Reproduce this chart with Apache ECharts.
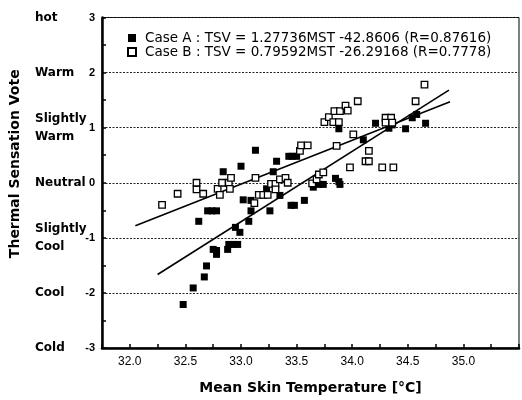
<!DOCTYPE html>
<html>
<head>
<meta charset="utf-8">
<script src="https://cdn.jsdelivr.net/npm/echarts@6/dist/echarts.min.js"></script>
<style>
  html, body { margin: 0; padding: 0; background: #fff; }
  #chart { width: 522px; height: 400px; }
</style>
</head>
<body>
<div id="chart"></div>
<script>
// Case A (filled squares): [mean skin temperature, thermal sensation vote]
const caseA = [
  [32.48,-2.21],[32.57,-1.91],[32.67,-1.71],[32.69,-1.51],[32.75,-1.21],
  [32.78,-1.23],[32.78,-1.30],[32.88,-1.21],[32.89,-1.12],[32.93,-1.12],
  [32.97,-1.12],[32.62,-0.70],[32.70,-0.51],[32.74,-0.51],[32.78,-0.51],
  [32.84,0.20],[33.00,0.30],[33.13,0.59],[32.95,-0.81],[32.99,-0.90],
  [33.02,-0.31],[33.07,-0.70],[33.09,-0.32],[33.09,-0.51],[33.23,-0.11],
  [33.26,-0.51],[33.29,0.20],[33.32,0.39],[33.35,-0.23],[33.43,0.48],
  [33.46,0.48],[33.50,0.48],[33.45,-0.41],[33.48,-0.41],[33.57,-0.32],
  [33.65,-0.08],[33.70,-0.03],[33.74,-0.03],[33.85,0.08],[33.88,0.02],
  [33.89,-0.03],[33.88,0.98],[34.10,0.78],[34.21,1.08],[34.33,0.99],
  [34.36,1.05],[34.48,0.98],[34.54,1.18],[34.58,1.24],[34.66,1.08]
];

// Case B (open squares)
const caseB = [
  [32.29,-0.40],[32.43,-0.20],[32.60,-0.12],[32.60,0.00],[32.66,-0.20],
  [32.79,-0.11],[32.81,-0.22],[32.83,0.00],[32.89,0.00],[32.90,-0.11],
  [32.91,0.09],[33.13,0.09],[33.12,-0.37],[33.16,-0.22],[33.20,-0.22],
  [33.24,-0.22],[33.27,-0.02],[33.31,-0.02],[33.31,-0.12],[33.35,0.06],
  [33.40,0.09],[33.42,0.00],[33.53,0.58],[33.54,0.68],[33.60,0.68],
  [33.64,-0.01],[33.68,0.06],[33.70,0.15],[33.74,0.19],[33.75,1.10],
  [33.79,1.19],[33.83,1.10],[33.88,1.10],[33.84,1.30],[33.89,1.30],
  [33.94,1.40],[33.96,1.31],[34.05,1.48],[34.01,0.88],[33.86,0.67],
  [33.98,0.28],[34.15,0.58],[34.12,0.39],[34.15,0.39],[34.27,0.28],
  [34.37,0.28],[34.30,1.18],[34.35,1.18],[34.30,1.09],[34.36,1.09],
  [34.57,1.48],[34.65,1.78]
];

// Regression fits: TSV = slope * MST + intercept, over the drawn MST span
const fitA = { slope: 1.27736, intercept: -42.8606, from: 32.25, to: 34.87 };
const fitB = { slope: 0.79592, intercept: -26.29168, from: 32.05, to: 34.88 };

const legendA = 'Case A : TSV = 1.27736MST -42.8606 (R=0.87616)';
const legendB = 'Case B : TSV = 0.79592MST -26.29168 (R=0.7778)';

// Verbal scale beside the numeric vote ticks
const voteTicks = [-3, -2, -1, 0, 1, 2, 3];
const voteWords = ['Cold', 'Cool', 'Slightly\nCool', 'Neutral', 'Slightly\nWarm', 'Warm', 'hot'];

const xTickLabels = ['32.0', '32.5', '33.0', '33.5', '34.0', '34.5', '35.0'];

function fitLine(f) {
  return [f.from, f.to].map(x => [x, f.slope * x + f.intercept]);
}

const heavy = { fontFamily: 'DejaVu Sans', fontWeight: 900, color: '#000' };

const chart = echarts.init(document.getElementById('chart'), null, { renderer: 'canvas' });
chart.setOption({
  backgroundColor: '#fff',
  animation: false,
  grid: {
    left: 102, top: 17.5, width: 453, height: 331.5,
    show: true, borderColor: '#000', borderWidth: 1
  },
  legend: {
    orient: 'vertical',
    left: 122, top: 26,
    itemWidth: 8, itemHeight: 8, itemGap: 0,
    textStyle: {
      fontFamily: 'DejaVu Sans', fontSize: 13.5, color: '#000',
      lineHeight: 14, padding: [0, 0, 0, 4]
    },
    data: [legendA, legendB]
  },
  xAxis: {
    type: 'value',
    min: 31.75, max: 35.5, interval: 0.25,
    name: 'Mean Skin Temperature [°C]',
    nameLocation: 'middle', nameGap: 33,
    nameTextStyle: Object.assign({ fontSize: 14 }, heavy),
    axisLine: { onZero: false, lineStyle: { color: '#000', width: 2.5 } },
    axisTick: { inside: true, length: 4, lineStyle: { color: '#000', width: 1.5 } },
    axisLabel: {
      margin: 8, fontFamily: 'Liberation Sans', fontSize: 12, color: '#000',
      formatter: v => {
        const s = v.toFixed(1);
        return xTickLabels.indexOf(s) >= 0 && Math.abs(v * 2 - Math.round(v * 2)) < 1e-6 ? s : '';
      }
    },
    splitLine: { show: false }
  },
  yAxis: [
    {
      type: 'value',
      min: -3, max: 3, interval: 1,
      name: 'Thermal Sensation Vote',
      nameLocation: 'middle', nameGap: 80, nameRotate: 90,
      nameTextStyle: Object.assign({ fontSize: 14, padding: [0, 0, 0, 38] }, heavy),
      axisLine: { onZero: false, lineStyle: { color: '#000', width: 2.5 } },
      axisTick: { inside: true, length: 4, lineStyle: { color: '#000', width: 1.5 } },
      minorTick: { show: true, splitNumber: 2, length: 4, lineStyle: { color: '#000', width: 1.5 } },
      axisLabel: {
        margin: 7, fontFamily: 'Liberation Sans', fontWeight: 'bold', fontSize: 11, color: '#000'
      },
      splitLine: { show: true, lineStyle: { color: '#222', width: 1, type: [2, 1.5] } }
    },
    {
      type: 'value',
      min: -3, max: 3, interval: 1,
      position: 'left',
      axisLine: { show: false, onZero: false },
      axisTick: { show: false },
      splitLine: { show: false },
      axisLabel: Object.assign({
        margin: 67, align: 'left', fontSize: 12, lineHeight: 18,
        formatter: v => voteWords[voteTicks.indexOf(v)] || ''
      }, heavy)
    }
  ],
  series: [
    {
      name: legendA, type: 'scatter', data: caseA,
      symbol: 'rect', symbolSize: 7,
      itemStyle: { color: '#000', opacity: 1 }, z: 3
    },
    {
      name: legendB, type: 'scatter', data: caseB,
      symbol: 'rect', symbolSize: 6.5,
      itemStyle: { color: '#fff', borderColor: '#000', borderWidth: 1.3, opacity: 1 }, z: 4
    },
    {
      type: 'line', data: fitLine(fitA), showSymbol: false, silent: true,
      lineStyle: { color: '#000', width: 1.6 }, z: 2
    },
    {
      type: 'line', data: fitLine(fitB), showSymbol: false, silent: true,
      lineStyle: { color: '#000', width: 1.6 }, z: 2
    }
  ]
});
</script>
</body>
</html>
